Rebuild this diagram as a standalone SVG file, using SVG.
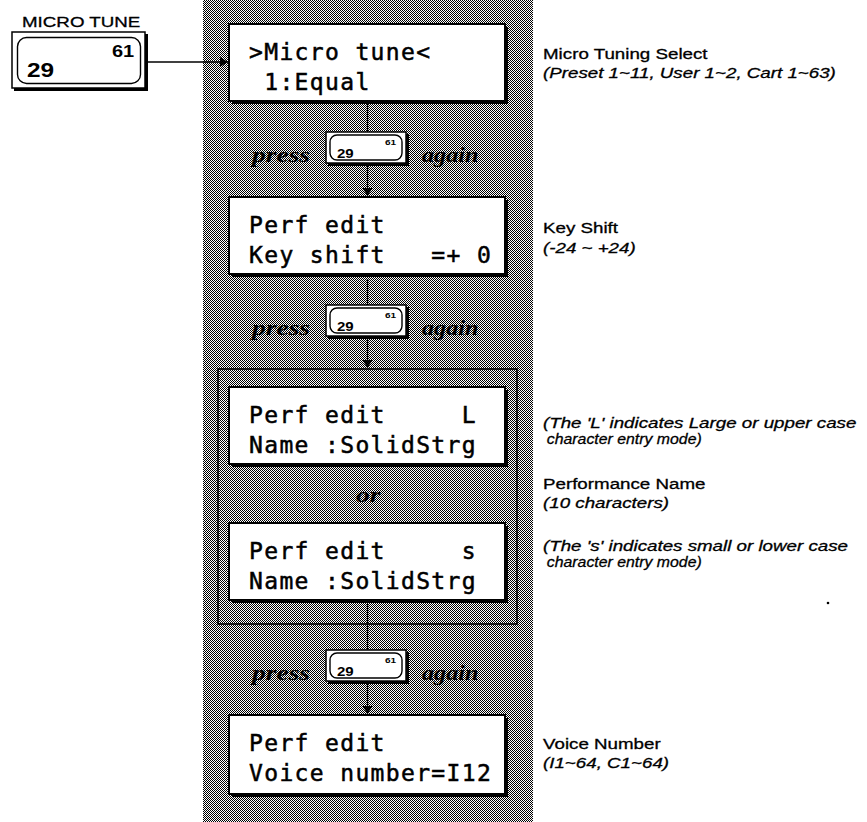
<svg xmlns="http://www.w3.org/2000/svg" width="867" height="822" viewBox="0 0 867 822">
<defs>
<style>
.lcd{font-family:"DejaVu Sans Mono","Liberation Mono",monospace;font-size:23px;letter-spacing:1.35px;fill:#000;stroke:#000;stroke-width:0.5}
.ser{font-family:"Liberation Serif","Times New Roman",serif;font-weight:bold;font-style:italic;font-size:22px;fill:#000}
.lab{font-family:"Liberation Sans",Arial,sans-serif;font-size:15px;fill:#000;stroke:#000;stroke-width:0.3}
.it{font-style:italic}
.kb{font-family:"Liberation Sans",Arial,sans-serif;font-weight:bold;fill:#000}
.box{fill:#fff;stroke:#000;stroke-width:2}
.shadow{fill:#000}
.conn{stroke:#000;stroke-width:1.3;fill:none}
.thin{fill:none;stroke:#000;stroke-width:1.4}
</style>
<pattern id="dither" width="2" height="2" patternUnits="userSpaceOnUse">
<rect width="2" height="2" fill="#fff"/>
<rect x="0" y="0" width="1" height="1" fill="#000"/>
<rect x="1" y="1" width="1" height="1" fill="#000"/>
</pattern>
<marker id="arr" markerWidth="8" markerHeight="10" viewBox="0 0 8 10" refX="8" refY="5" orient="auto-start-reverse" markerUnits="userSpaceOnUse">
<path d="M0,0 L8,5 L0,10 z" fill="#000"/>
</marker>
<g id="pbtn">
<rect class="shadow" x="2" y="2" width="81" height="32"/>
<rect x="0" y="0" width="80" height="31" fill="#fff" stroke="#000" stroke-width="1.5"/>
<rect class="thin" x="4" y="3" width="72" height="25" rx="7"/>
<text class="kb" style="font-size:12px" transform="translate(11 26) scale(1.25 1)">29</text>
<text class="kb" style="font-size:8px" transform="translate(59 13) scale(1.25 1)">61</text>
</g>
</defs>

<rect x="0" y="0" width="867" height="822" fill="#fff"/>
<rect id="strip" x="203" y="0" width="330" height="822" fill="url(#dither)"/>

<g id="microTuneKey">
<text class="lab" transform="translate(22 27) scale(1.25 1)">MICRO TUNE</text>
<rect class="shadow" x="14" y="34" width="134" height="57"/>
<rect x="12" y="32" width="133" height="56" fill="#fff" stroke="#000" stroke-width="1.5"/>
<rect class="thin" x="17.5" y="37.5" width="123" height="46" rx="9"/>
<text class="kb" style="font-size:16px" transform="translate(112 57) scale(1.25 1)">61</text>
<text class="kb" style="font-size:19.5px" transform="translate(27 77) scale(1.25 1)">29</text>
</g>

<g id="nameFrame">
<rect x="218" y="369" width="299" height="255" fill="none" stroke="#000" stroke-width="1.6"/>
</g>

<g id="connectors">
<path class="conn" d="M148,62 H228" marker-end="url(#arr)"/>
<path class="conn" d="M367.5,104 V132"/>
<path class="conn" d="M367.5,166 V196" marker-end="url(#arr)"/>
<path class="conn" d="M367.5,279 V305"/>
<path class="conn" d="M367.5,339 V368" marker-end="url(#arr)"/>
<path class="conn" d="M367.5,604 V650"/>
<path class="conn" d="M367.5,684 V714" marker-end="url(#arr)"/>
</g>

<g id="lcd1">
<rect class="shadow" x="232" y="27" width="276" height="77"/>
<rect class="box" x="229" y="24" width="276" height="77"/>
<text class="lcd" x="249" y="60" xml:space="preserve">&gt;Micro tune&lt;</text>
<text class="lcd" x="249" y="90" xml:space="preserve"> 1:Equal</text>
</g>

<g id="press1">
<text class="ser" transform="translate(252 162) scale(1.25 1)">press</text>
<use href="#pbtn" x="326" y="132"/>
<text class="ser" transform="translate(422 162) scale(1.1 1)">again</text>
</g>

<g id="lcd2">
<rect class="shadow" x="232" y="200" width="276" height="77"/>
<rect class="box" x="229" y="197" width="276" height="77"/>
<text class="lcd" x="249" y="233" xml:space="preserve">Perf edit</text>
<text class="lcd" x="249" y="263" xml:space="preserve">Key shift   =+ 0</text>
</g>

<g id="press2">
<text class="ser" transform="translate(252 335) scale(1.25 1)">press</text>
<use href="#pbtn" x="326" y="305"/>
<text class="ser" transform="translate(422 335) scale(1.1 1)">again</text>
</g>

<g id="lcd3">
<rect class="shadow" x="232" y="390" width="276" height="77"/>
<rect class="box" x="229" y="387" width="276" height="77"/>
<text class="lcd" x="249" y="423" xml:space="preserve">Perf edit     L</text>
<text class="lcd" x="249" y="453" xml:space="preserve">Name :SolidStrg</text>
</g>

<g id="orLabel">
<text class="ser" transform="translate(356 502) scale(1.25 1)">or</text>
</g>

<g id="lcd4">
<rect class="shadow" x="232" y="526" width="276" height="77"/>
<rect class="box" x="229" y="523" width="276" height="77"/>
<text class="lcd" x="249" y="559" xml:space="preserve">Perf edit     s</text>
<text class="lcd" x="249" y="589" xml:space="preserve">Name :SolidStrg</text>
</g>

<g id="press3">
<text class="ser" transform="translate(252 680) scale(1.25 1)">press</text>
<use href="#pbtn" x="326" y="650"/>
<text class="ser" transform="translate(422 680) scale(1.1 1)">again</text>
</g>

<g id="lcd5">
<rect class="shadow" x="232" y="718" width="276" height="79"/>
<rect class="box" x="229" y="715" width="276" height="79"/>
<text class="lcd" x="249" y="751" xml:space="preserve">Perf edit</text>
<text class="lcd" x="249" y="781" xml:space="preserve">Voice number=I12</text>
</g>

<g id="notes" class="lab" transform="translate(543 0) scale(1.25 1)">
<text y="59">Micro Tuning Select</text>
<text class="it" y="78">(Preset 1~11, User 1~2, Cart 1~63)</text>
<text y="233">Key Shift</text>
<text class="it" y="253">(-24 ~ +24)</text>
<text class="it" y="428">(The 'L' indicates Large or upper case</text>
<text class="it" y="444" x="3" textLength="124" lengthAdjust="spacingAndGlyphs">character entry mode)</text>
<text y="489">Performance Name</text>
<text class="it" y="508">(10 characters)</text>
<text class="it" y="551">(The 's' indicates small or lower case</text>
<text class="it" y="567" x="3" textLength="124" lengthAdjust="spacingAndGlyphs">character entry mode)</text>
<text y="749">Voice Number</text>
<text class="it" y="768">(I1~64, C1~64)</text>
</g>
<circle cx="828" cy="603" r="1.3" fill="#000"/>
</svg>
